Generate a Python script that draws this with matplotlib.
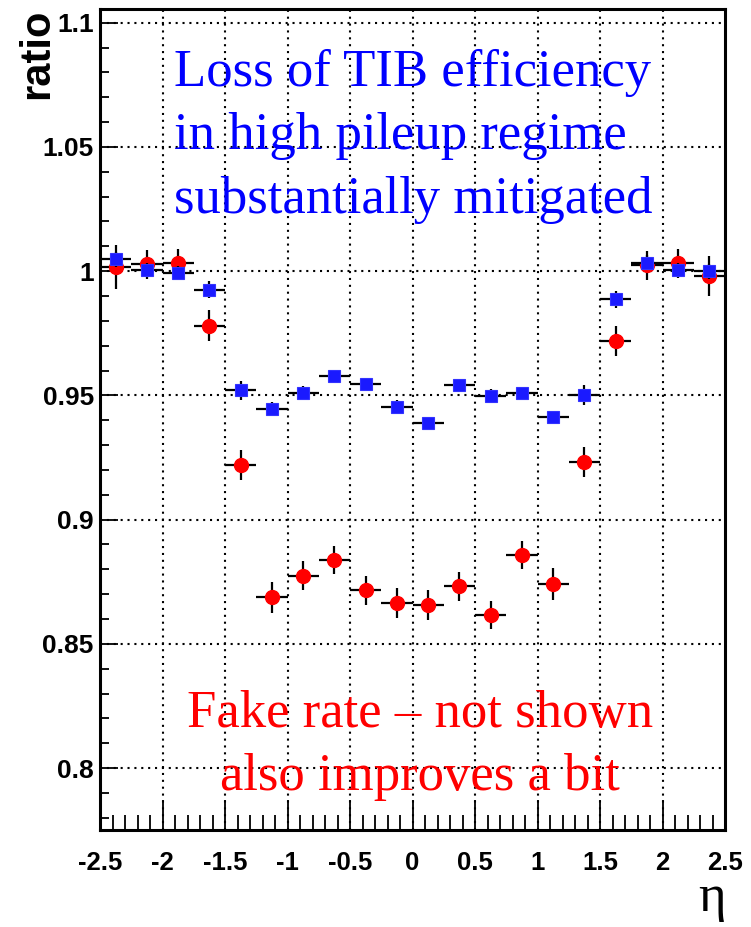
import matplotlib
matplotlib.use("Agg")
import matplotlib.pyplot as plt
from matplotlib.ticker import MultipleLocator, FuncFormatter
import numpy as np

plt.rcParams["mathtext.fontset"] = "custom"
plt.rcParams["mathtext.rm"] = "Liberation Serif"
plt.rcParams["mathtext.it"] = "Liberation Serif"

# ---- data ----
eta_centers = [-2.375, -2.125, -1.875, -1.625, -1.375, -1.125, -0.875, -0.625, -0.375, -0.125,
               0.125, 0.375, 0.625, 0.875, 1.125, 1.375, 1.625, 1.875, 2.125, 2.375]
eta_halfwidth = 0.125

red_vals = [1.0017, 1.0027, 1.0031, 0.9780, 0.9220, 0.8687, 0.8774, 0.8838, 0.8715, 0.8664,
            0.8657, 0.8731, 0.8617, 0.8858, 0.8742, 0.9232, 0.9719, 1.0024, 1.0031, 0.9980]
red_errs = [0.0087, 0.0057, 0.0060, 0.0062, 0.0062, 0.0064, 0.0058, 0.0057, 0.0060, 0.0061,
            0.0060, 0.0060, 0.0056, 0.0057, 0.0065, 0.0062, 0.0060, 0.0059, 0.0057, 0.0080]

blue_vals = [1.0047, 1.0004, 0.9991, 0.9926, 0.9520, 0.9447, 0.9511, 0.9579, 0.9546, 0.9455,
             0.9390, 0.9540, 0.9499, 0.9510, 0.9412, 0.9503, 0.9887, 1.0033, 1.0003, 0.9999]
blue_errs = [0.0030, 0.0028, 0.0028, 0.0035, 0.0037, 0.0026, 0.0025, 0.0024, 0.0025, 0.0025,
             0.0025, 0.0025, 0.0025, 0.0025, 0.0026, 0.0040, 0.0035, 0.0030, 0.0028, 0.0030]

blue_text = ["Loss of TIB efficiency", "in high pileup regime", "substantially mitigated"]
red_text = ["Fake rate \u2013 not shown", "also improves a bit"]

y_major = [0.8, 0.85, 0.9, 0.95, 1.0, 1.05, 1.1]

# ---- figure ----
fig = plt.figure(figsize=(7.51, 9.27), dpi=100)
ax = fig.add_axes([100 / 751, 97 / 927, 625 / 751, 821 / 927])

ax.set_xlim(-2.5, 2.5)
ax.set_ylim(0.7751, 1.1055)

# grid
for x in np.arange(-2.0, 2.01, 0.5):
    ax.axvline(x, color="black", lw=1.5, ls=(0, (1, 2.3)), zorder=1)
for y in y_major:
    ax.axhline(y, color="black", lw=1.5, ls=(0, (1, 2.3)), zorder=1)

xerr = [eta_halfwidth] * len(eta_centers)
ax.errorbar(eta_centers, red_vals, xerr=xerr, yerr=red_errs, fmt="none",
            ecolor="black", elinewidth=1.6, capsize=0, zorder=3)
ax.plot(eta_centers, red_vals, "o", color="#ff0000", ms=10, mec="#ff0000", zorder=4)
ax.errorbar(eta_centers, blue_vals, xerr=xerr, yerr=blue_errs, fmt="none",
            ecolor="black", elinewidth=1.6, capsize=0, zorder=5)
ax.plot(eta_centers, blue_vals, "s", color="#1a1aff", ms=9, mec="#3333ff", mew=0.8, zorder=6)

# ticks
ax.xaxis.set_major_locator(MultipleLocator(0.5))
ax.xaxis.set_minor_locator(MultipleLocator(0.1))
ax.set_yticks(y_major)
ax.yaxis.set_minor_locator(MultipleLocator(0.01))
ax.xaxis.set_major_formatter(FuncFormatter(lambda v, p: "%g" % round(v, 2)))
ax.yaxis.set_major_formatter(FuncFormatter(lambda v, p: "%g" % round(v, 3)))
ax.tick_params(axis="x", which="major", direction="in", length=21.5, width=1.3, pad=15,
               top=False, labelsize=18.5)
ax.tick_params(axis="x", which="minor", direction="in", length=10.8, width=1.3, top=False)
ax.tick_params(axis="y", which="major", direction="in", length=13, width=1.3, pad=4.5,
               right=False, labelsize=19)
ax.tick_params(axis="y", which="minor", direction="in", length=6.5, width=1.3, right=False)
for lab in ax.get_xticklabels() + ax.get_yticklabels():
    lab.set_fontfamily("Liberation Sans")
    lab.set_fontweight("bold")

for s in ax.spines.values():
    s.set_linewidth(2.2)
    s.set_zorder(10)

# annotations
blue_base = [1.0744, 1.0491, 1.0233]
for t, yb in zip(blue_text, blue_base):
    ax.text(-1.91, yb, t, color="#0000ff", fontsize=38, family="Liberation Serif",
            ha="left", va="baseline", zorder=7)
red_base = [0.8167, 0.7912]
for t, yb in zip(red_text, red_base):
    ax.text(0.06, yb, t, color="#ff0000", fontsize=38, family="Liberation Serif",
            ha="center", va="baseline", zorder=7)

fig.text(37 / 751, 1 - 9 / 927, "ratio", rotation=90, fontsize=30, fontweight="bold",
         family="Liberation Sans", ha="center", va="top")
fig.text(725 / 751, 1 - 911 / 927, r"$\mathrm{\eta}$", fontsize=38,
         ha="right", va="baseline")

fig.savefig("out.png", dpi=100)
